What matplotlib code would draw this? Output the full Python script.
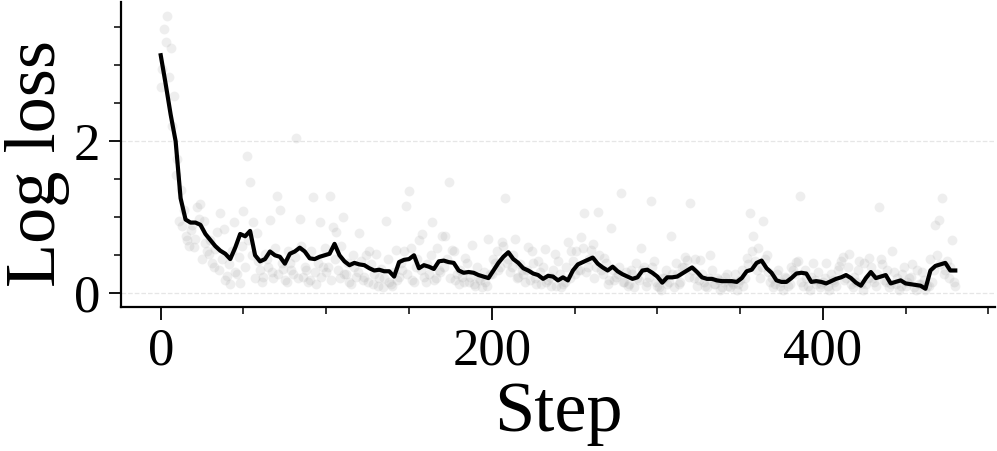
import numpy as np
import matplotlib
matplotlib.use("Agg")
import matplotlib.pyplot as plt
from matplotlib.ticker import MultipleLocator

# raw per-step loss, even steps (0, 2, 4, ...)
loss_even = [
    2.71, 3.47, 3.64, 3.22, 2.60, 1.76, 1.36, 1.10, 0.70, 0.83,
    0.61, 1.14, 1.18, 0.95, 0.55, 0.70, 0.35, 0.80, 1.06, 0.84,
    0.23, 0.12, 0.94, 0.25, 0.14, 1.08, 1.80, 1.47, 0.94, 0.79,
    0.30, 0.22, 0.45, 0.97, 0.20, 1.28, 1.09, 0.32, 0.15, 0.40,
    0.26, 2.04, 0.98, 0.22, 0.30, 0.18, 1.27, 0.12, 0.94, 0.35,
    0.28, 1.28, 0.87, 0.80, 0.20, 1.00, 0.25, 0.15, 0.50, 0.22,
    0.79, 0.18, 0.50, 0.56, 0.12, 0.52, 0.20, 0.08, 0.95, 0.15,
    0.10, 0.57, 0.22, 0.30, 1.15, 1.35, 0.18, 0.35, 0.70, 0.78,
    0.15, 0.25, 0.94, 0.20, 0.30, 0.75, 0.76, 1.47, 0.57, 0.18,
    0.12, 0.22, 0.47, 0.15, 0.64, 0.10, 0.20, 0.08, 0.15, 0.71,
    0.25, 0.40, 0.30, 0.68, 1.25, 0.45, 0.35, 0.71, 0.22, 0.30,
    0.15, 0.61, 0.55, 0.20, 0.42, 0.12, 0.58, 0.18, 0.10, 0.52,
    0.43, 0.08, 0.15, 0.67, 0.56, 0.25, 0.30, 0.74, 1.05, 0.35,
    0.57, 0.20, 1.07, 0.30, 0.47, 0.12, 0.86, 0.18, 0.25, 1.32,
    0.15, 0.10, 0.30, 0.08, 0.20, 0.59, 0.35, 0.15, 1.22, 0.42,
    0.10, 0.05, 0.20, 0.12, 0.75, 0.08, 0.25, 0.15, 0.35, 0.44,
    1.19, 0.20, 0.10, 0.44, 0.15, 0.08, 0.50, 0.12, 0.20, 0.05,
    0.15, 0.25, 0.08, 0.12, 0.05, 0.18, 0.10, 0.46, 1.05, 0.76,
    0.30, 0.20, 0.95, 0.50, 0.15, 0.08, 0.25, 0.10, 0.05, 0.20,
    0.12, 0.30, 0.41, 1.28, 0.10, 0.20, 0.05, 0.40, 0.12, 0.08,
    0.15, 0.40, 0.05, 0.18, 0.10, 0.36, 0.48, 0.20, 0.52, 0.08,
    0.15, 0.43, 0.05, 0.12, 0.47, 0.20, 0.10, 1.13, 0.38, 0.15,
    0.08, 0.56, 0.12, 0.05, 0.25, 0.10, 0.20, 0.38, 0.05, 0.12,
    0.28, 0.05, 0.10, 0.15, 0.90, 0.97, 1.25, 0.30, 0.20, 0.70,
    0.10,
]
# raw per-step loss, odd steps (1, 3, 5, ...)
loss_odd = [
    2.95, 3.30, 2.85, 2.20, 1.55, 0.95, 0.88, 0.75, 0.62, 0.90,
    0.72, 0.98, 0.45, 0.66, 0.52, 0.40, 0.58, 0.30, 0.45, 0.17,
    0.38, 0.55, 0.28, 0.48, 0.62, 0.35, 0.70, 0.50, 0.20, 0.42,
    0.15, 0.52, 0.35, 0.28, 0.60, 0.25, 0.40, 0.18, 0.55, 0.30,
    0.48, 0.20, 0.62, 0.35, 0.15, 0.55, 0.28, 0.40, 0.22, 0.60,
    0.35, 0.18, 0.45, 0.30, 0.62, 0.25, 0.40, 0.12, 0.35, 0.28,
    0.42, 0.22, 0.15, 0.38, 0.25, 0.10, 0.32, 0.20, 0.45, 0.12,
    0.28, 0.18, 0.40, 0.55, 0.25, 0.60, 0.15, 0.45, 0.30, 0.22,
    0.38, 0.50, 0.18, 0.60, 0.28, 0.35, 0.45, 0.20, 0.55, 0.25,
    0.30, 0.15, 0.40, 0.22, 0.12, 0.35, 0.18, 0.28, 0.10, 0.25,
    0.45, 0.55, 0.35, 0.62, 0.40, 0.28, 0.50, 0.20, 0.38, 0.25,
    0.30, 0.18, 0.40, 0.12, 0.28, 0.35, 0.15, 0.22, 0.30, 0.10,
    0.25, 0.12, 0.35, 0.20, 0.42, 0.55, 0.30, 0.60, 0.28, 0.45,
    0.65, 0.35, 0.50, 0.25, 0.40, 0.18, 0.30, 0.22, 0.35, 0.15,
    0.28, 0.12, 0.25, 0.40, 0.18, 0.30, 0.10, 0.22, 0.35, 0.15,
    0.08, 0.20, 0.30, 0.15, 0.25, 0.40, 0.12, 0.35, 0.48, 0.22,
    0.30, 0.45, 0.18, 0.25, 0.10, 0.20, 0.30, 0.12, 0.18, 0.08,
    0.22, 0.10, 0.15, 0.25, 0.12, 0.30, 0.20, 0.38, 0.55, 0.42,
    0.60, 0.35, 0.45, 0.28, 0.20, 0.12, 0.30, 0.15, 0.22, 0.10,
    0.35, 0.25, 0.42, 0.15, 0.30, 0.10, 0.22, 0.18, 0.28, 0.12,
    0.20, 0.10, 0.25, 0.15, 0.30, 0.42, 0.18, 0.35, 0.12, 0.22,
    0.30, 0.12, 0.40, 0.20, 0.35, 0.15, 0.25, 0.45, 0.18, 0.30,
    0.12, 0.28, 0.20, 0.10, 0.35, 0.15, 0.22, 0.08, 0.30, 0.12,
    0.18, 0.10, 0.45, 0.30, 0.50, 0.38, 0.25, 0.42, 0.35, 0.15,
]
steps_even = np.arange(len(loss_even)) * 2
steps_odd = np.arange(len(loss_odd)) * 2 + 1

# smoothed loss (every 3 steps)
smooth_loss = [
    3.13, 2.75, 2.35, 2.00, 1.25, 0.97, 0.93, 0.93, 0.90, 0.78,
    0.70, 0.62, 0.56, 0.52, 0.45, 0.60, 0.78, 0.75, 0.82, 0.50,
    0.42, 0.45, 0.55, 0.50, 0.48, 0.39, 0.52, 0.55, 0.60, 0.55,
    0.46, 0.45, 0.48, 0.50, 0.52, 0.65, 0.50, 0.42, 0.37, 0.40,
    0.38, 0.37, 0.33, 0.30, 0.31, 0.29, 0.29, 0.22, 0.41, 0.44,
    0.45, 0.50, 0.33, 0.37, 0.35, 0.32, 0.42, 0.43, 0.41, 0.40,
    0.30, 0.27, 0.28, 0.27, 0.24, 0.22, 0.20, 0.30, 0.40, 0.48,
    0.54, 0.45, 0.40, 0.33, 0.30, 0.26, 0.24, 0.19, 0.23, 0.22,
    0.17, 0.21, 0.17, 0.30, 0.38, 0.41, 0.44, 0.47, 0.39, 0.34,
    0.30, 0.35, 0.29, 0.25, 0.22, 0.19, 0.21, 0.30, 0.31, 0.27,
    0.22, 0.14, 0.21, 0.21, 0.22, 0.26, 0.30, 0.34, 0.28, 0.21,
    0.19, 0.19, 0.17, 0.16, 0.16, 0.16, 0.15, 0.20, 0.29, 0.31,
    0.40, 0.43, 0.33, 0.27, 0.17, 0.15, 0.15, 0.20, 0.26, 0.27,
    0.26, 0.15, 0.16, 0.15, 0.13, 0.16, 0.19, 0.21, 0.24, 0.20,
    0.14, 0.10, 0.20, 0.28, 0.20, 0.22, 0.24, 0.13, 0.15, 0.17,
    0.13, 0.12, 0.11, 0.10, 0.06, 0.30, 0.36, 0.38, 0.40, 0.30,
    0.30,
]
smooth_steps = np.arange(len(smooth_loss)) * 3

plt.rcParams["font.family"] = ["Liberation Serif", "DejaVu Serif"]

fig = plt.figure(figsize=(9.97, 4.51), dpi=100)
ax = fig.add_axes([121 / 997, 1 - 307 / 451, (995 - 121) / 997, (307 - 2) / 451])

ax.scatter(steps_even, loss_even, s=50, color="#9a9a9a", alpha=0.16, linewidths=0, zorder=2)
ax.scatter(steps_odd, loss_odd, s=50, color="#9a9a9a", alpha=0.16, linewidths=0, zorder=2)
ax.plot(smooth_steps, smooth_loss, color="black", linewidth=3.0, zorder=3)

ax.set_xlim(-24, 504)
ax.set_ylim(-0.18, 3.83)
ax.xaxis.set_major_locator(MultipleLocator(200))
ax.xaxis.set_minor_locator(MultipleLocator(50))
ax.yaxis.set_major_locator(MultipleLocator(2))
ax.yaxis.set_minor_locator(MultipleLocator(0.5))

ax.grid(True, which="major", axis="y", linestyle="--", color="#e6e6e6", linewidth=0.9, zorder=0)
ax.set_axisbelow(True)

for side in ["top", "right"]:
    ax.spines[side].set_visible(False)
for side in ["left", "bottom"]:
    ax.spines[side].set_linewidth(1.6)

ax.tick_params(which="major", length=9, width=1.3, labelsize=38, pad=6)
ax.tick_params(which="minor", length=5, width=1.1)

ax.set_xlabel("Step", fontsize=52, labelpad=4)
ax.set_ylabel("Log loss", fontsize=52)
ax.yaxis.set_label_coords(-0.058, 0.47)

fig.savefig("out.png", dpi=100)
